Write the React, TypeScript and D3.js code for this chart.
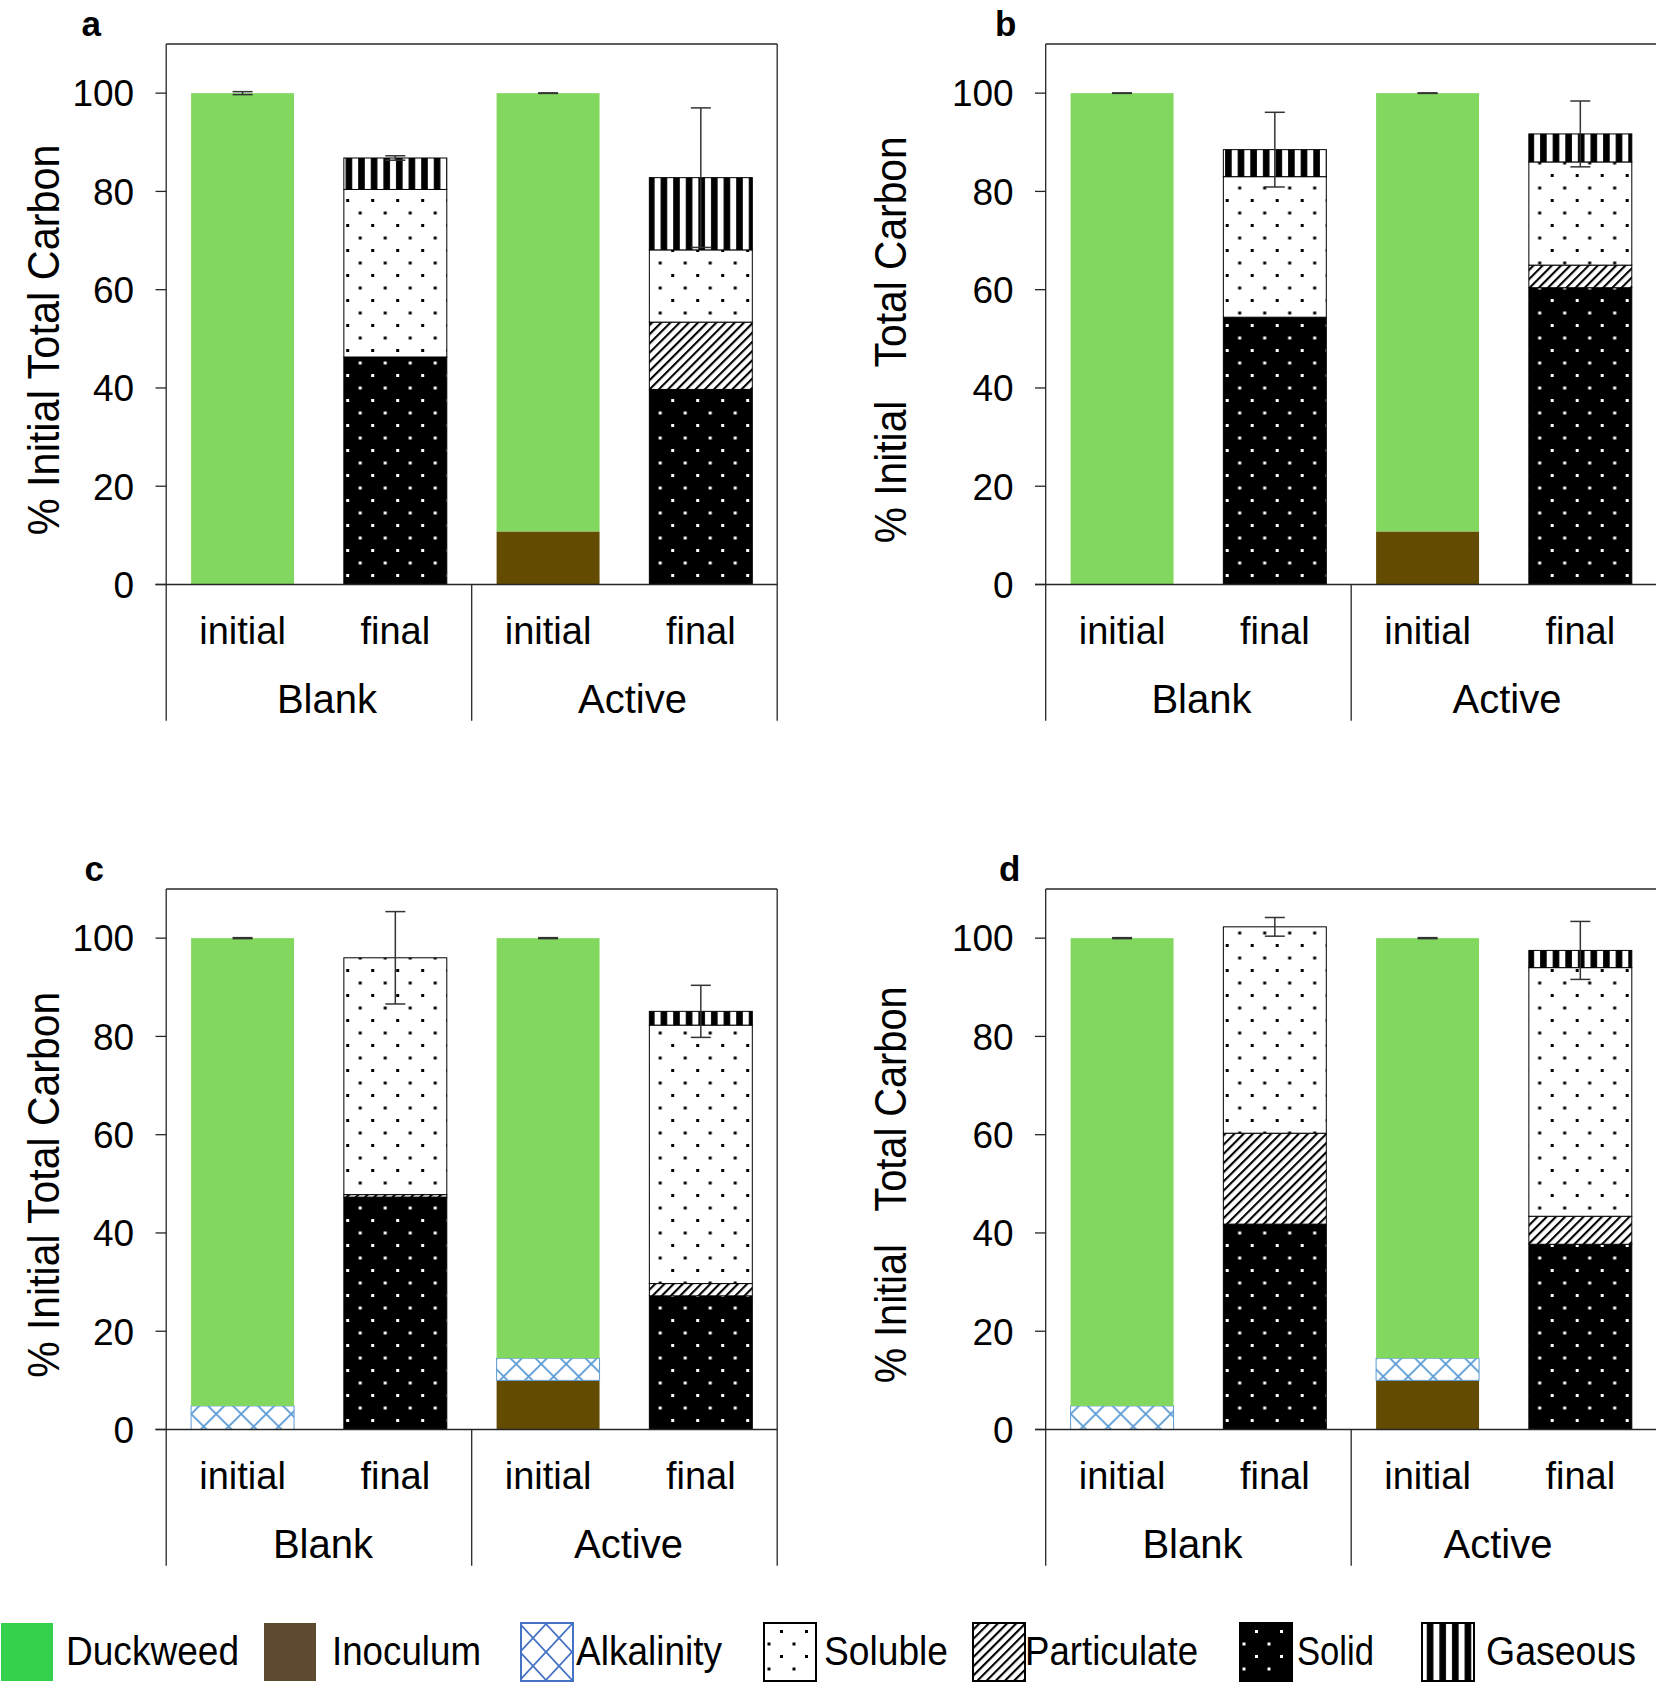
import React from "react";
import * as d3 from "d3";

// ---------- DATA ----------
const panelLabels = ["a", "b", "c", "d"];
const barLabels = ["initial", "final", "initial", "final"];
const groupLabels = ["Blank", "Active"];
const yTicks = [0, 20, 40, 60, 80, 100];
const legendNames = ["Duckweed", "Inoculum", "Alkalinity", "Soluble", "Particulate", "Solid", "Gaseous"];

// per panel (a,b,c,d) -> per bar (Blank initial, Blank final, Active initial, Active final)
const duckweed = [[100, 0, 89.2, 0], [100, 0, 89.2, 0], [95.2, 0, 85.5, 0], [95.2, 0, 85.5, 0]];
const inoculum = [[0, 0, 10.8, 0], [0, 0, 10.8, 0], [0, 0, 10.0, 0], [0, 0, 10.0, 0]];
const alkalinity = [[0, 0, 0, 0], [0, 0, 0, 0], [4.8, 0, 4.5, 0], [4.8, 0, 4.5, 0]];
const solid = [[0, 46.3, 0, 39.7], [0, 54.4, 0, 60.4], [0, 47.3, 0, 27.2], [0, 41.8, 0, 37.7]];
const particulate = [[0, 0, 0, 13.7], [0, 0, 0, 4.6], [0, 0.5, 0, 2.5], [0, 18.5, 0, 5.7]];
const soluble = [[0, 34.1, 0, 14.7], [0, 28.6, 0, 21.0], [0, 48.2, 0, 52.6], [0, 42.0, 0, 50.6]];
const gaseous = [[0, 6.4, 0, 14.7], [0, 5.5, 0, 5.7], [0, 0, 0, 2.8], [0, 0, 0, 3.5]];
const errorSD = [[0.3, 0.45, 0.05, 14.2], [0.05, 7.6, 0.05, 6.7], [0.1, 9.4, 0.1, 5.3], [0.1, 1.9, 0.1, 5.9]];

// ---------- LAYOUT / STYLE ----------
const W = 1656;
const H = 1682;
const plotW = 611;
const plotH = 540.5;
const bottomH = 136.2;
const panelX = [166.2, 1045.7, 166.2, 1045.7];
const panelY = [44, 44, 889, 889];
const titleDX = [-123, -156, -123, -156];
const titleText = ["% Initial Total Carbon", "% Initial   Total Carbon", "% Initial Total Carbon", "% Initial   Total Carbon"];
const titleLen = [391, 407, 386, 397];
const letterDX = [-75, -40, -72, -36];
const groupDX = [8, 3, 4, -6];
const FONT = "'Liberation Sans', Arial, sans-serif";

const stackKeys = ["Inoculum", "Alkalinity", "Duckweed", "Solid", "Particulate", "Soluble", "Gaseous"];
const segStyle: Record<string, { fill: string; stroke: string; sw: number }> = {
  Duckweed: { fill: "#82d85f", stroke: "none", sw: 0 },
  Inoculum: { fill: "#634b02", stroke: "none", sw: 0 },
  Alkalinity: { fill: "url(#pAlk)", stroke: "#5b9bd5", sw: 1 },
  Solid: { fill: "url(#pSolid)", stroke: "#000", sw: 1 },
  Particulate: { fill: "url(#pPart)", stroke: "#000", sw: 1 },
  Soluble: { fill: "url(#pSol)", stroke: "#000", sw: 1 },
  Gaseous: { fill: "url(#pGas)", stroke: "#000", sw: 1 },
};

const legendSwatchX = [0, 263, 520, 763, 972, 1239, 1421];
const legendTextX = [66, 332, 576, 824, 1025, 1297, 1486];
const legendTextW = [173, 149, 146, 124, 173, 77, 150];
const legendFill: Record<string, { fill: string; stroke: string }> = {
  Duckweed: { fill: "#35d14c", stroke: "none" },
  Inoculum: { fill: "#5e4a2e", stroke: "none" },
  Alkalinity: { fill: "url(#pAlkL)", stroke: "#4472c4" },
  Soluble: { fill: "url(#pSol)", stroke: "#000" },
  Particulate: { fill: "url(#pPart)", stroke: "#000" },
  Solid: { fill: "url(#pSolid)", stroke: "#000" },
  Gaseous: { fill: "url(#pGas)", stroke: "#000" },
};

function Panel({ p }: { p: number }) {
  const x = d3.scaleBand<number>().domain([0, 1, 2, 3]).range([0, plotW]).paddingInner(0.326).paddingOuter(0.163);
  const y = d3.scaleLinear().domain([0, 110]).range([plotH, 0]);
  const rows = [0, 1, 2, 3].map((i) => ({
    Duckweed: duckweed[p][i],
    Inoculum: inoculum[p][i],
    Alkalinity: alkalinity[p][i],
    Solid: solid[p][i],
    Particulate: particulate[p][i],
    Soluble: soluble[p][i],
    Gaseous: gaseous[p][i],
  }));
  const series = d3.stack<any>().keys(stackKeys)(rows);
  const totals = rows.map((r) => stackKeys.reduce((s, k) => s + (r as any)[k], 0));
  const line = "#262626";
  const bw = x.bandwidth();
  return (
    <g transform={`translate(${panelX[p]},${panelY[p]})`}>
      {series.map((s) =>
        s.map((d, i) =>
          d[1] - d[0] > 0 ? (
            <rect
              key={s.key + i}
              x={x(i)}
              y={y(d[1])}
              width={bw}
              height={y(d[0]) - y(d[1])}
              fill={segStyle[s.key].fill}
              stroke={segStyle[s.key].stroke}
              strokeWidth={segStyle[s.key].sw}
            />
          ) : null
        )
      )}
      {totals.map((t, i) => {
        const cx = (x(i) as number) + bw / 2;
        const sd = errorSD[p][i];
        return (
          <g key={"e" + i} stroke="#333" strokeWidth={1.5}>
            <line x1={cx} x2={cx} y1={y(t - sd)} y2={y(t + sd)} />
            <line x1={cx - 10} x2={cx + 10} y1={y(t + sd)} y2={y(t + sd)} />
            <line x1={cx - 10} x2={cx + 10} y1={y(t - sd)} y2={y(t - sd)} />
          </g>
        );
      })}
      {/* frame */}
      <g stroke={line} strokeWidth={1.3} fill="none">
        <line x1={0} x2={plotW} y1={0} y2={0} />
        <line x1={0} x2={0} y1={0} y2={plotH + bottomH} />
        <line x1={plotW} x2={plotW} y1={0} y2={plotH + bottomH} />
        <line x1={-10.7} x2={plotW} y1={plotH} y2={plotH} />
        <line x1={plotW / 2} x2={plotW / 2} y1={plotH} y2={plotH + bottomH} />
        {yTicks.map((t) => (
          <line key={t} x1={-10.7} x2={0} y1={y(t)} y2={y(t)} />
        ))}
      </g>
      {yTicks.map((t) => (
        <text key={"t" + t} x={-32} y={y(t)} dy="0.36em" textAnchor="end" fontSize={37} fontFamily={FONT} fill="#000">
          {t}
        </text>
      ))}
      {barLabels.map((l, i) => (
        <text key={"c" + i} x={(x(i) as number) + bw / 2} y={plotH + 59} textAnchor="middle" fontSize={38} fontFamily={FONT} fill="#000">
          {l}
        </text>
      ))}
      {groupLabels.map((g, i) => (
        <text
          key={"g" + i}
          x={plotW / 4 + (i * plotW) / 2 + groupDX[p]}
          y={plotH + 128.5}
          textAnchor="middle"
          fontSize={40}
          fontFamily={FONT}
          fill="#000"
        >
          {g}
        </text>
      ))}
      <text
        transform={`translate(${titleDX[p]},${y(50) + 1}) rotate(-90)`}
        textAnchor="middle"
        dy="0.36em"
        fontSize={44}
        fontFamily={FONT}
        fill="#000"
        textLength={titleLen[p]}
        lengthAdjust="spacingAndGlyphs"
        style={{ whiteSpace: "pre" }}
      >
        {titleText[p]}
      </text>
      <text x={letterDX[p]} y={-8} textAnchor="middle" fontSize={35} fontWeight="bold" fontFamily={FONT} fill="#000">
        {panelLabels[p]}
      </text>
    </g>
  );
}

export default function App() {
  return (
    <svg width={W} height={H} style={{ position: "absolute", left: 0, top: 0, background: "#fff" }}>
      <defs>
        <pattern id="pSol" width={25} height={25} patternUnits="userSpaceOnUse">
          <rect width={25} height={25} fill="#fff" />
          <rect x={5} y={5} width={3} height={3} fill="#000" />
          <rect x={17.5} y={17.5} width={3} height={3} fill="#000" />
        </pattern>
        <pattern id="pSolid" width={25} height={25} patternUnits="userSpaceOnUse">
          <rect width={25} height={25} fill="#000" />
          <rect x={5} y={5} width={3} height={3} fill="#fff" />
          <rect x={17.5} y={17.5} width={3} height={3} fill="#fff" />
        </pattern>
        <pattern id="pGas" width={12.6} height={10} patternUnits="userSpaceOnUse">
          <rect width={12.6} height={10} fill="#fff" />
          <rect x={3} width={6.6} height={10} fill="#000" />
        </pattern>
        <pattern id="pPart" width={6.5} height={6.5} patternUnits="userSpaceOnUse" patternTransform="rotate(45)">
          <rect width={6.5} height={6.5} fill="#fff" />
          <rect width={2.1} height={6.5} fill="#000" />
        </pattern>
        <pattern id="pAlk" width={25} height={25} patternUnits="userSpaceOnUse">
          <rect width={25} height={25} fill="#fff" />
          <path d="M0,0L25,25M25,0L0,25" stroke="#5b9bd5" strokeWidth={1.8} />
        </pattern>
        <pattern id="pAlkL" width={26} height={28} patternUnits="userSpaceOnUse">
          <rect width={26} height={28} fill="#fff" />
          <path d="M0,0L26,28M26,0L0,28" stroke="#4472c4" strokeWidth={1.8} />
        </pattern>
      </defs>
      <rect width={W} height={H} fill="#fff" />
      {[0, 1, 2, 3].map((p) => (
        <Panel key={p} p={p} />
      ))}
      {legendNames.map((n, i) => (
        <g key={n}>
          <rect
            x={legendSwatchX[i] + 1}
            y={1623}
            width={52}
            height={58}
            fill={legendFill[n].fill}
            stroke={legendFill[n].stroke}
            strokeWidth={legendFill[n].stroke === "none" ? 0 : 2}
          />
          <text
            x={legendTextX[i]}
            y={1665}
            fontSize={41}
            fontFamily={FONT}
            fill="#000"
            textLength={legendTextW[i]}
            lengthAdjust="spacingAndGlyphs"
          >
            {n}
          </text>
        </g>
      ))}
    </svg>
  );
}
